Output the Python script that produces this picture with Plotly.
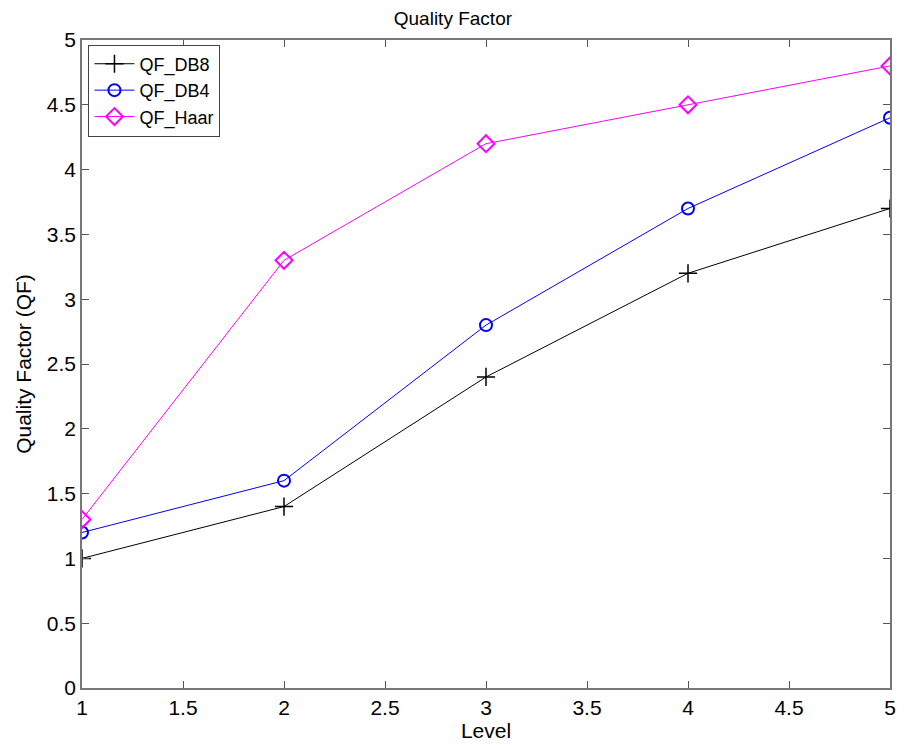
import plotly.graph_objects as go

levels = [1, 2, 3, 4, 5]
qf_db8 = [1.0, 1.4, 2.4, 3.2, 3.7]
qf_db4 = [1.2, 1.6, 2.8, 3.7, 4.4]
qf_haar = [1.3, 3.3, 4.2, 4.5, 4.8]
tick_vals_x = [1, 1.5, 2, 2.5, 3, 3.5, 4, 4.5, 5]
tick_vals_y = [0, 0.5, 1, 1.5, 2, 2.5, 3, 3.5, 4, 4.5, 5]

FONT = "Liberation Sans, Arial, Helvetica"

fig = go.Figure()
fig.add_trace(go.Scatter(x=levels, y=qf_db8, name="QF_DB8", mode="lines+markers",
                         line=dict(color="black", width=1),
                         marker=dict(symbol="cross-thin", size=13, line=dict(color="black", width=1.5))))
fig.add_trace(go.Scatter(x=levels, y=qf_db4, name="QF_DB4", mode="lines+markers",
                         line=dict(color="#0000ff", width=1),
                         marker=dict(symbol="circle-open", size=12, color="#0000ff", line=dict(width=2))))
fig.add_trace(go.Scatter(x=levels, y=qf_haar, name="QF_Haar", mode="lines+markers",
                         line=dict(color="#ff00ff", width=1),
                         marker=dict(symbol="diamond-open", size=13, color="#ff00ff", line=dict(width=2))))

axis_common = dict(showgrid=False, zeroline=False, showline=True, linecolor="#777777", linewidth=1.5,
                   mirror="ticks", ticks="inside", ticklen=7, tickcolor="#555555",
                   tickfont=dict(family=FONT, size=21, color="black"))
fig.update_xaxes(range=[1, 5], tickvals=tick_vals_x, ticktext=[f"{v:g}" for v in tick_vals_x],
                 title=dict(text="Level", font=dict(family=FONT, size=21, color="black"), standoff=2),
                 **axis_common)
fig.update_yaxes(range=[0, 5], tickvals=tick_vals_y, ticktext=[f"{v:g}" for v in tick_vals_y],
                 title=dict(text="Quality Factor (QF)", font=dict(family=FONT, size=21, color="black"), standoff=9),
                 **axis_common)

fig.update_layout(
    width=897, height=737,
    margin=dict(l=74, r=15, t=32, b=57, autoexpand=False),
    plot_bgcolor="white", paper_bgcolor="white",
    title=dict(text="Quality Factor", x=0.496, xanchor="center", y=0.995, yanchor="top",
               font=dict(family=FONT, size=19, color="black")),
    legend=dict(x=0.008, y=0.993, xanchor="left", yanchor="top", bgcolor="white",
                bordercolor="#444444", borderwidth=1,
                font=dict(family=FONT, size=18, color="black"),
                tracegroupgap=0, itemwidth=40),
    showlegend=True,
)

fig.write_html("out.html")
